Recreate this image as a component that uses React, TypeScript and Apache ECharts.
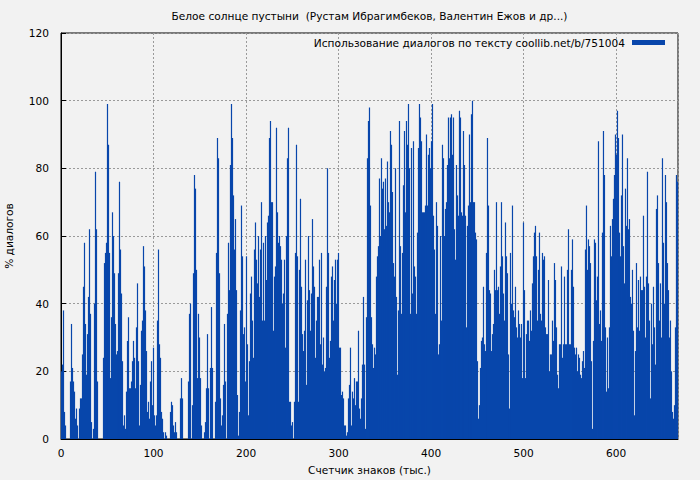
import React, { useEffect, useRef } from "react";
import * as echarts from "echarts";

const TITLE = "Белое солнце пустыни  (Рустам Ибрагимбеков, Валентин Ежов и др...)";
const LEGEND_NAME = "Использование диалогов по тексту coollib.net/b/751004";
const X_NAME = "Счетчик знаков (тыс.)";
const Y_NAME = "% диалогов";
const STEP = 1.081; // thousand characters per bar
const X_MAX = 667;
const Y_MAX = 120;

const seg1 = [20,22,38,8,4,0,0,0,0,17,34,21,17,14,6,9,4,0,9,12,12,25,45,58,34,19,31,42,62,37,5,0,3,40,79,62,17,0,0,0,0,0,24,52,55,58,99,87,55,18,36,67,60];
const seg2 = [49,34,25,26,49,76,56,43,23,4,7,3,14,29,36,15,15,17,23,29,24,15,33,46,23,4,16,32,35,57,51,38,26,8,11,6,17,23,10,27,7,4,7,35,56,28,24,8,6,2,0,2,1];
const seg3 = [0,0,0,8,11,10,4,2,5,2,0,0,0,12,18,12,0,0,0,0,0,17,37,40,0,10,49,78,74,50,18,37,30,18,4,0,0,2,5,15,31,15,0,21,39,21,0,0,11,55,89,83,49];
const seg4 = [12,4,7,16,34,17,0,37,58,44,81,99,89,72,56,65,44,13,1,8,38,69,54,31,33,17,54,28,7,23,43,48,35,24,56,64,53,46,60,42,56,70,35,58,35,60,47,64,66,89,94,70,70];
const seg5 = [32,48,51,92,67,58,60,57,53,40,43,53,27,60,83,92,11,11,4,5,0,11,55,87,54,11,50,71,45,31,26,32,53,16,41,60,44,32,43,65,51,45,24,35,42,42,53,28,55,22,30,20,21];
const seg6 = [45,80,55,24,29,48,51,35,47,53,40,53,55,27,27,13,14,12,4,4,1,2,12,16,27,4,14,12,18,10,17,17,32,9,6,12,22,42,22,3,36,83,94,98,69,36,28,21,27,25,48,54,57];
const seg7 = [77,60,83,74,76,62,77,63,82,70,67,91,87,73,52,48,80,42,19,38,94,57,37,55,75,91,67,94,87,99,80,37,86,43,88,51,48,37,61,86,99,95,88,67,67,67,69,90,69,84,86,80,88];
const seg8 = [99,66,56,37,70,63,25,28,60,35,87,83,60,68,70,81,95,83,95,96,84,95,62,53,81,72,66,97,95,67,66,91,81,66,33,63,69,90,70,96,100,70,70,61,59,23,6,10,21,29,30,45,28];
const seg9 = [26,55,89,69,44,43,26,31,34,50,44,70,44,45,37,51,70,54,43,35,64,54,49,25,9,55,40,69,38,36,45,33,30,38,34,30,34,18,64,44,18,31,35,35,29,38,32,46,54,61,63,54,35];
const seg10 = [50,61,37,35,55,53,54,33,31,31,47,20,25,25,35,29,52,47,33,19,15,28,28,51,24,28,48,28,28,50,62,28,28,50,59,45,27,25,27,20,25,24,19,18,23,26,21,56,69,50,59,57,52];
const seg11 = [23,3,29,59,58,41,48,88,34,38,29,61,91,78,33,14,30,15,33,63,54,65,71,78,90,84,97,89,61,54,72,90,57,46,74,63,83,62,65,42,40,50,32,7,26,52,33,47,32,48,44,44,66];
const seg12 = [45,30,48,79,46,35,12,40,28,45,33,22,68,72,52,35,46,30,83,58,40,78,70,52,44,30,35,20,8,6,10,33,78,76];

const VALUES = [...seg1, ...seg2, ...seg3, ...seg4, ...seg5, ...seg6, ...seg7, ...seg8, ...seg9, ...seg10, ...seg11, ...seg12];

const FONT = '"DejaVu Sans", sans-serif';
const FS = 10.6;
const FONT_STR = `${FS}px "DejaVu Sans"`;
const BAR_COLOR = "#0846ab";

export default function App() {
  const ref = useRef<HTMLDivElement>(null);
  useEffect(() => {
    const chart = echarts.init(ref.current!, null, { renderer: "svg" });
    const data = VALUES.map((v, i) => [(i + 0.5) * STEP, v]);
    const textStyleFor = (text: string) => ({
      text,
      font: FONT_STR,
      fill: "#000",
      textAlign: "center",
      textVerticalAlign: "middle",
      align: "center",
      verticalAlign: "middle",
    });
    chart.setOption({
      animation: false,
      backgroundColor: "#f2f2f2",
      textStyle: { fontFamily: FONT, fontSize: FS, color: "#000" },
      grid: {
        left: 61,
        right: 22,
        top: 33,
        bottom: 41,
        show: true,
        borderColor: "#000",
        borderWidth: 1,
        backgroundColor: "transparent",
      },
      legend: {
        show: true,
        data: [LEGEND_NAME],
        right: 35,
        top: 37,
        padding: 0,
        align: "right",
        itemWidth: 33,
        itemHeight: 5,
        icon: "rect",
        textStyle: { fontFamily: FONT, fontSize: FS, color: "#000", padding: [0, 2, 0, 0] },
      },
      xAxis: {
        type: "value",
        min: 0,
        max: X_MAX,
        interval: 100,
        axisLine: { show: true, lineStyle: { color: "#000" } },
        axisTick: { show: true, inside: true, length: 5, lineStyle: { color: "#000" } },
        axisLabel: { color: "#000", fontFamily: FONT, fontSize: FS, margin: 8, showMaxLabel: false },
        splitLine: { show: true, lineStyle: { color: "#9a9a9a", type: [2, 2], width: 1 } },
      },
      yAxis: {
        type: "value",
        min: 0,
        max: Y_MAX,
        interval: 20,
        axisLine: { show: true, lineStyle: { color: "#000" } },
        axisTick: { show: true, inside: true, length: 5, lineStyle: { color: "#000" } },
        axisLabel: { color: "#000", fontFamily: FONT, fontSize: FS, margin: 12 },
        splitLine: { show: true, lineStyle: { color: "#9a9a9a", type: [2, 2], width: 1 } },
      },
      series: [
        {
          name: LEGEND_NAME,
          type: "bar",
          data,
          barWidth: 1.2,
          itemStyle: { color: BAR_COLOR },
          emphasis: { disabled: true },
        },
      ],
      graphic: [
        { type: "text", x: 369.5, y: 16, style: textStyleFor(TITLE) },
        { type: "text", x: 369.5, y: 470, style: textStyleFor(X_NAME) },
        { type: "text", x: 9, y: 236, rotation: Math.PI / 2, style: textStyleFor(Y_NAME) },
      ],
    });
    return () => chart.dispose();
  }, []);
  return (
    <div
      ref={ref}
      style={{ position: "fixed", left: 0, top: 0, width: 700, height: 480, background: "#f2f2f2" }}
    />
  );
}
